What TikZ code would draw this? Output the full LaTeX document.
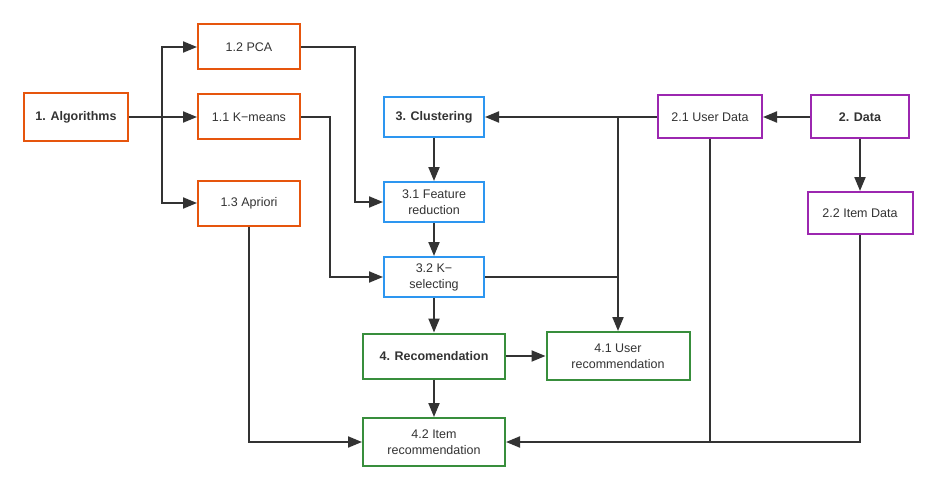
\documentclass[tikz,border=0pt]{standalone}
\usepackage{fontspec}
\setmainfont{Liberation Sans}
\usetikzlibrary{arrows.meta}
\definecolor{corange}{RGB}{230,85,13}
\definecolor{cblue}{RGB}{45,150,240}
\definecolor{cgreen}{RGB}{56,142,60}
\definecolor{cpurple}{RGB}{156,39,176}
\definecolor{ctext}{RGB}{51,51,51}
\tikzset{
  box/.style={draw, line width=2pt, fill=white, text=ctext, align=center, font=\fontsize{12.5}{16}\selectfont, inner sep=2pt},
  obox/.style={box, draw=corange, minimum width=102pt, minimum height=45pt},
  bbox/.style={box, draw=cblue, minimum width=100pt, minimum height=40pt},
  gbox/.style={box, draw=cgreen, minimum width=142pt, minimum height=46pt},
  pbox/.style={box, draw=cpurple, minimum width=102pt, minimum height=43pt},
  conn/.style={draw=ctext, line width=2pt, -{Triangle[length=14pt,width=11pt]}},
  plain/.style={draw=ctext, line width=2pt},
}
\begin{document}
\begin{tikzpicture}[x=1pt,y=-1pt]
\useasboundingbox (0,0) rectangle (937,492);
% algorithms
\node[obox, minimum width=104pt, minimum height=48pt] (alg) at (76,117) {\textbf{1. Algorithms}};
\node[obox] (pca) at (249,47) {1.2 PCA};
\node[obox] (km) at (249,117) {1.1 K−means};
\node[obox] (ap) at (249,203) {1.3 Apriori};
% clustering
\node[bbox] (cl) at (434,117) {\textbf{3. Clustering}};
\node[bbox] (fr) at (434,202) {3.1 Feature\\reduction};
\node[bbox] (ks) at (434,277) {3.2 K−\\selecting};
% recommendation
\node[gbox, minimum height=45pt] (rec) at (434,356) {\textbf{4. Recomendation}};
\node[gbox, minimum width=143pt, minimum height=48pt] (ur) at (618,356) {4.1 User\\recommendation};
\node[gbox, minimum height=48pt] (ir) at (434,442) {4.2 Item\\recommendation};
% data
\node[pbox, minimum width=104pt] (ud) at (710,117) {2.1 User Data};
\node[pbox, minimum width=98pt] (dat) at (860,117) {\textbf{2. Data}};
\node[pbox, minimum width=105pt, minimum height=42pt] (id) at (860,213) {2.2 Item Data};
% junctions
\coordinate (j1) at (162,117);
\coordinate (j3) at (355,47);
\coordinate (j4) at (330,117);
\coordinate (j2) at (618,117);
% connectors
\draw[plain] (alg.east) -- (j1);
\draw[conn] (j1) |- (pca.west);
\draw[conn] (j1) -- (km.west);
\draw[conn] (j1) |- (ap.west);
\draw[conn] (pca.east) -- (j3) |- (fr.west);
\draw[conn] (km.east) -- (j4) |- (ks.west);
\draw[conn] (cl) -- (fr);
\draw[conn] (fr) -- (ks);
\draw[conn] (ks) -- (rec);
\draw[conn] (ud.west) -- (cl.east);
\draw[conn] (j2) -- (ur.north);
\draw[plain] (ks.east) -- (ks.east -| j2);
\draw[conn] (dat.west) -- (ud.east);
\draw[conn] (dat) -- (id);
\draw[conn] (rec) -- (ur);
\draw[conn] (rec) -- (ir);
\draw[conn] (ap.south) |- (ir.west);
\draw[conn] (ud.south) |- (ir.east);
\draw[plain] (id.south) |- (ud.south |- ir.east);
\end{tikzpicture}
\end{document}
